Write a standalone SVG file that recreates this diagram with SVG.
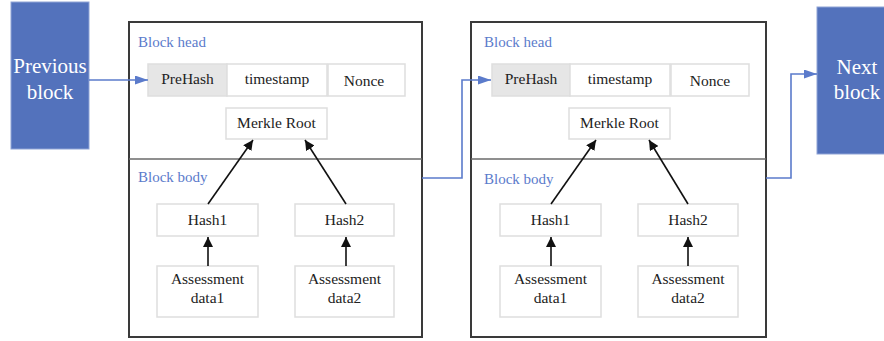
<svg xmlns="http://www.w3.org/2000/svg" width="884" height="341" viewBox="0 0 884 341" font-family="'Liberation Serif','DejaVu Serif',serif">
<defs>
<style>
text{font-family:"Liberation Serif","DejaVu Serif",serif;}
.ext{fill:#5372BC;stroke:#8FA3D6;stroke-width:1;}
.extt{fill:#fff;font-size:21px;text-anchor:middle;}
.outer{fill:#fff;stroke:#3a3a3a;stroke-width:2;}
.div{stroke:#6a6a6a;stroke-width:1.5;}
.lbl{fill:#5B7BCB;font-size:15px;}
.cell{fill:#fff;stroke:#dedede;stroke-width:1.5;}
.gray{fill:#e6e6e6;}
.t{fill:#222;font-size:15.5px;text-anchor:middle;}
.blk{stroke:#111;stroke-width:1.6;fill:none;}
.blu{stroke:#5B7BCB;stroke-width:1.6;fill:none;}
</style>
<marker id="ah" markerWidth="10" markerHeight="10" viewBox="0 0 10 10" refX="10" refY="5" orient="auto" markerUnits="userSpaceOnUse">
<path d="M0,0 L10,5 L0,10 Z" fill="#111"/>
</marker>
<marker id="bh" markerWidth="13" markerHeight="9" viewBox="0 0 13 9" refX="13" refY="4.5" orient="auto" markerUnits="userSpaceOnUse">
<path d="M0,0 L13,4.5 L0,9 Z" fill="#5B7BCB"/>
</marker>
</defs>

<g id="prev">
<rect class="ext" x="11" y="2" width="78" height="147"/>
<text class="extt" x="50" y="73">Previous</text>
<text class="extt" x="50" y="99">block</text>
</g>

<g id="next">
<rect class="ext" x="817" y="7" width="70" height="147"/>
<text class="extt" x="857" y="74">Next</text>
<text class="extt" x="857" y="99">block</text>
</g>

<g id="block1">
<rect class="outer" x="129" y="22" width="293" height="315"/>
<line class="div" x1="129" y1="159" x2="422" y2="159"/>
<text class="lbl" x="138" y="47">Block head</text>
<text class="lbl" x="138" y="182">Block body</text>
</g>
<g id="b1-prehash"><rect class="cell gray" x="148" y="64" width="79" height="32"/><text class="t" x="187.5" y="84">PreHash</text></g>
<g id="b1-timestamp"><rect class="cell" x="227" y="64" width="100" height="32"/><text class="t" x="277" y="84">timestamp</text></g>
<g id="b1-nonce"><rect class="cell" x="328" y="64" width="77" height="32"/><text class="t" x="364" y="86">Nonce</text></g>
<g id="b1-merkle"><rect class="cell" x="226" y="108" width="101" height="31"/><text class="t" x="276.5" y="128">Merkle Root</text></g>
<g id="b1-hash1"><rect class="cell" x="157" y="204" width="101" height="32"/><text class="t" x="207.5" y="225">Hash1</text></g>
<g id="b1-hash2"><rect class="cell" x="295" y="204" width="99" height="32"/><text class="t" x="344.5" y="225">Hash2</text></g>
<g id="b1-data1"><rect class="cell" x="157" y="266" width="101" height="51"/><text class="t" x="207.5" y="284">Assessment</text><text class="t" x="207.5" y="303">data1</text></g>
<g id="b1-data2"><rect class="cell" x="295" y="266" width="99" height="51"/><text class="t" x="344.5" y="284">Assessment</text><text class="t" x="344.5" y="303">data2</text></g>

<g id="block2">
<rect class="outer" x="471" y="22" width="295" height="315"/>
<line class="div" x1="471" y1="159" x2="766" y2="159"/>
<text class="lbl" x="484" y="47">Block head</text>
<text class="lbl" x="484" y="184">Block body</text>
</g>
<g id="b2-prehash"><rect class="cell gray" x="492" y="64" width="78" height="32"/><text class="t" x="531" y="84">PreHash</text></g>
<g id="b2-timestamp"><rect class="cell" x="570" y="64" width="100" height="32"/><text class="t" x="620" y="84">timestamp</text></g>
<g id="b2-nonce"><rect class="cell" x="671" y="64" width="78" height="32"/><text class="t" x="710" y="86">Nonce</text></g>
<g id="b2-merkle"><rect class="cell" x="569" y="108" width="101" height="31"/><text class="t" x="619.5" y="128">Merkle Root</text></g>
<g id="b2-hash1"><rect class="cell" x="500" y="204" width="101" height="32"/><text class="t" x="550.5" y="225">Hash1</text></g>
<g id="b2-hash2"><rect class="cell" x="638" y="204" width="100" height="32"/><text class="t" x="688" y="225">Hash2</text></g>
<g id="b2-data1"><rect class="cell" x="500" y="266" width="101" height="51"/><text class="t" x="550.5" y="284">Assessment</text><text class="t" x="550.5" y="303">data1</text></g>
<g id="b2-data2"><rect class="cell" x="638" y="266" width="100" height="51"/><text class="t" x="688" y="284">Assessment</text><text class="t" x="688" y="303">data2</text></g>

<g id="connectors">
<line class="blu" x1="89" y1="80" x2="148" y2="80" marker-end="url(#bh)"/>
<polyline class="blu" points="422,178 462,178 462,80 491,80" marker-end="url(#bh)"/>
<polyline class="blu" points="766,178 791,178 791,74 817,74" marker-end="url(#bh)"/>
<line class="blk" x1="208" y1="204" x2="253" y2="140" marker-end="url(#ah)"/>
<line class="blk" x1="346" y1="204" x2="305" y2="140" marker-end="url(#ah)"/>
<line class="blk" x1="208" y1="266" x2="208" y2="237" marker-end="url(#ah)"/>
<line class="blk" x1="346" y1="266" x2="346" y2="237" marker-end="url(#ah)"/>
<line class="blk" x1="551" y1="204" x2="596" y2="140" marker-end="url(#ah)"/>
<line class="blk" x1="688" y1="204" x2="649" y2="140" marker-end="url(#ah)"/>
<line class="blk" x1="551" y1="266" x2="551" y2="237" marker-end="url(#ah)"/>
<line class="blk" x1="688" y1="266" x2="688" y2="237" marker-end="url(#ah)"/>
</g>
</svg>
